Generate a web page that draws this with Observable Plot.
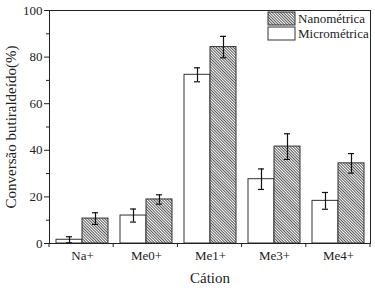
<!DOCTYPE html>
<html>
<head>
<meta charset="utf-8">
<script src="https://cdn.jsdelivr.net/npm/d3@7"></script>
<script src="https://cdn.jsdelivr.net/npm/@observablehq/plot@0.6"></script>
<style>
  body { margin: 0; background: white; }
  svg, svg text { font-family: "Liberation Serif", "Times New Roman", serif !important; }
</style>
</head>
<body>
<script>
const cations = ["Na+", "Me0+", "Me1+", "Me3+", "Me4+"];
const micro = [1.6, 12.0, 72.4, 27.6, 18.3];
const microErr = [1.3, 2.8, 3.0, 4.4, 3.6];
const nano = [10.7, 18.9, 84.3, 41.6, 34.4];
const nanoErr = [2.5, 2.0, 4.6, 5.5, 4.2];
const seriesNames = ["Nanométrica", "Micrométrica"];
const yMajor = [0, 20, 40, 60, 80, 100];
const yMinor = [10, 30, 50, 70, 90];

const data = cations.map((c, i) => ({
  cation: c, micro: micro[i], microErr: microErr[i], nano: nano[i], nanoErr: nanoErr[i]
}));

const W = 375, H = 288;
const mL = 49, mR = 5, mT = 10, mB = 45;
const ink = "#222";
const serif = "'Liberation Serif', 'Times New Roman', serif";

const plot = Plot.plot({
  width: W, height: H,
  marginLeft: mL, marginRight: mR, marginTop: mT, marginBottom: mB,
  style: { fontFamily: serif, fontSize: "13px", color: ink, background: "white" },
  x: { domain: cations, padding: 0 },
  y: { domain: [0, 100] },
  marks: [
    Plot.barY(data, { x: "cation", y: "micro", insetLeft: 6, insetRight: 32, fill: "white", stroke: "#333", strokeWidth: 1 }),
    Plot.barY(data, { x: "cation", y: "nano", insetLeft: 32, insetRight: 6, fill: "url(#hatch)", stroke: "#333", strokeWidth: 1 }),
    Plot.ruleX(data, { x: "cation", y1: d => d.micro - d.microErr, y2: d => d.micro + d.microErr, dx: -13, stroke: "#111", strokeWidth: 1.2 }),
    Plot.tickY(data, { x: "cation", y: d => d.micro - d.microErr, insetLeft: 16, insetRight: 42, stroke: "#111", strokeWidth: 1.2 }),
    Plot.tickY(data, { x: "cation", y: d => d.micro + d.microErr, insetLeft: 16, insetRight: 42, stroke: "#111", strokeWidth: 1.2 }),
    Plot.ruleX(data, { x: "cation", y1: d => d.nano - d.nanoErr, y2: d => d.nano + d.nanoErr, dx: 13, stroke: "#111", strokeWidth: 1.2 }),
    Plot.tickY(data, { x: "cation", y: d => d.nano - d.nanoErr, insetLeft: 42, insetRight: 16, stroke: "#111", strokeWidth: 1.2 }),
    Plot.tickY(data, { x: "cation", y: d => d.nano + d.nanoErr, insetLeft: 42, insetRight: 16, stroke: "#111", strokeWidth: 1.2 }),
    Plot.frame({ stroke: ink, strokeWidth: 1 }),
    Plot.axisY({ ticks: yMajor, tickSize: 5, tickPadding: 2, fontSize: 13,
      label: "Conversão butiraldeído(%)", labelAnchor: "center", labelArrow: "none", labelOffset: 44 }),
    Plot.axisY({ ticks: yMinor, tickSize: 3, tickFormat: () => "", label: null }),
    Plot.axisX({ tickSize: 0, tickPadding: 7, fontSize: 13,
      label: "Cátion", labelAnchor: "center", labelArrow: "none", labelOffset: 39 })
  ]
});

const svg = d3.select(plot);
svg.selectAll("g[aria-label='y-axis label'] text, g[aria-label='x-axis label'] text")
  .style("font-size", "15px");

const defs = svg.insert("defs", ":first-child");
const pat = defs.append("pattern")
  .attr("id", "hatch").attr("patternUnits", "userSpaceOnUse")
  .attr("width", 2).attr("height", 2).attr("patternTransform", "rotate(45)");
pat.append("rect").attr("width", 2).attr("height", 2).attr("fill", "white");
pat.append("rect").attr("width", 2).attr("height", 0.9).attr("fill", "#444");

// category boundary ticks from the x scale
const xs = plot.scale("x");
const [r0, r1] = xs.range;
const step = (r1 - r0) / cations.length;
const y0 = H - mB;
const gt = svg.append("g").attr("stroke", ink).attr("stroke-width", 1);
d3.range(cations.length + 1).forEach(i => {
  const x = r0 + i * step;
  gt.append("line").attr("x1", x).attr("x2", x).attr("y1", y0).attr("y2", y0 + 4);
});

// legend
const lg = svg.append("g").attr("font-family", serif).attr("font-size", 13).attr("text-anchor", "start");
const lx = r1 - 102, ly = mT + 2;
const fills = ["url(#hatch)", "white"];
seriesNames.forEach((name, i) => {
  lg.append("rect").attr("x", lx).attr("y", ly + i * 15).attr("width", 27).attr("height", 13)
    .attr("fill", fills[i]).attr("stroke", "#333");
  lg.append("text").attr("x", lx + 30).attr("y", ly + i * 15 + 6.5).attr("dy", "0.35em")
    .attr("text-anchor", "start").attr("fill", ink).text(name);
});

document.body.appendChild(plot);
</script>
</body>
</html>
